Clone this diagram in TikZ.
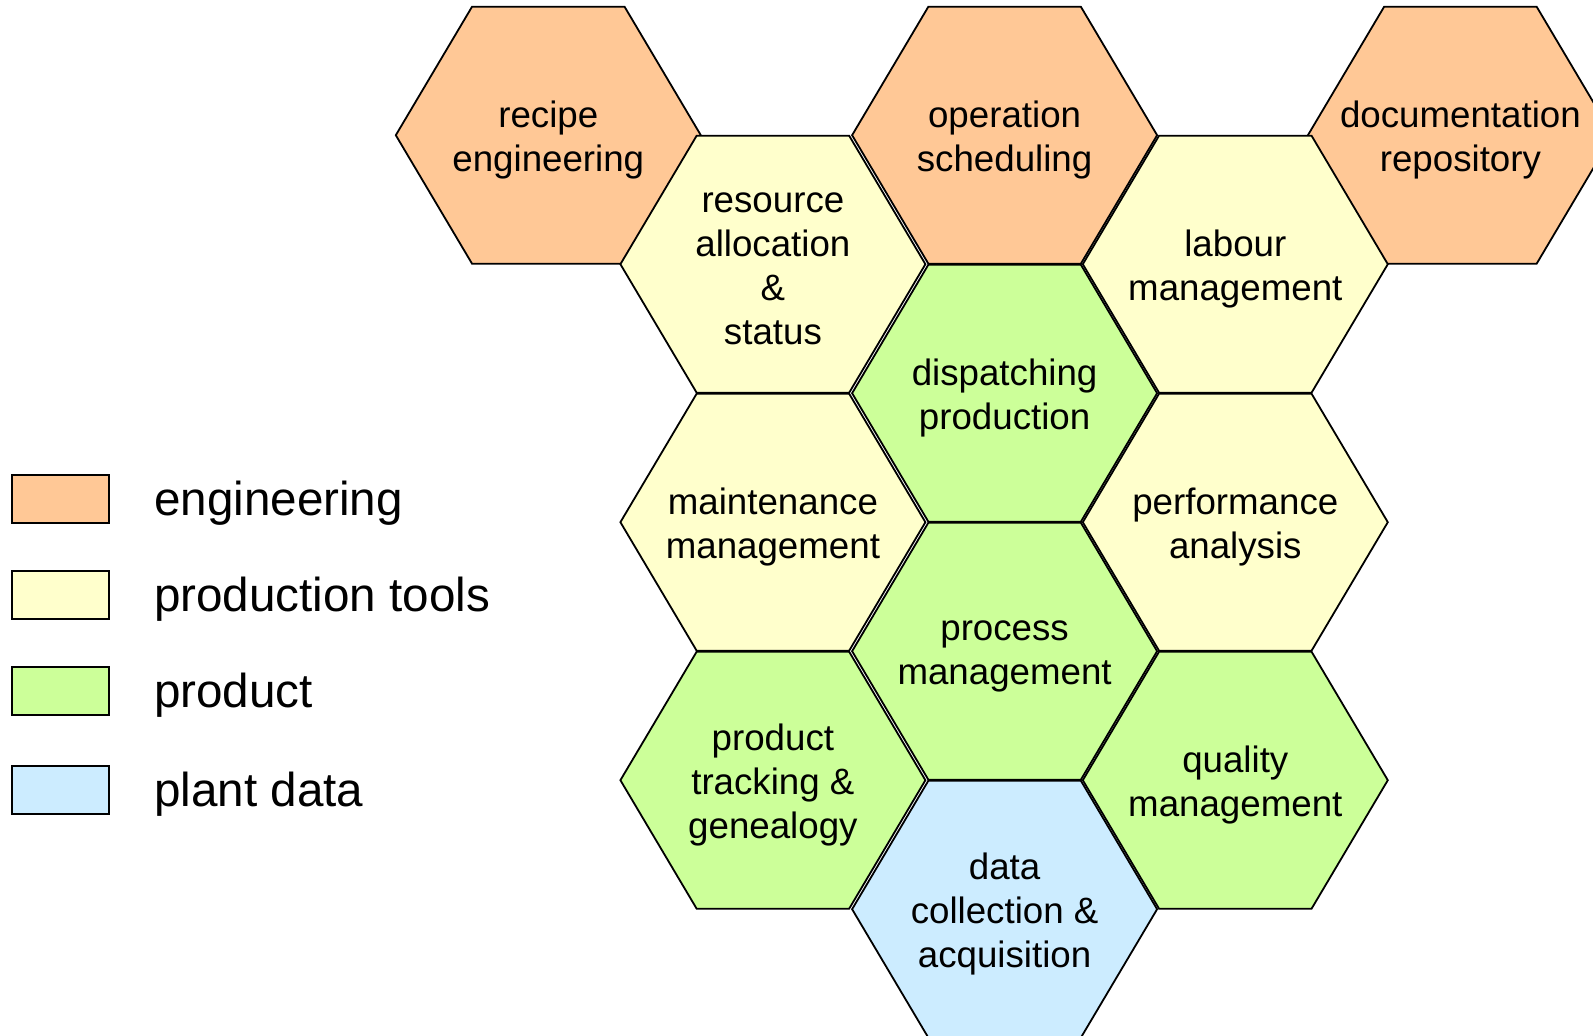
\documentclass[tikz,border=0pt]{standalone}
\usepackage{fontspec}
\setmainfont{Liberation Sans}
\definecolor{engc}{RGB}{255,200,150}
\definecolor{toolc}{RGB}{255,255,204}
\definecolor{prodc}{RGB}{204,255,153}
\definecolor{plantc}{RGB}{204,236,255}
\tikzset{
  hexline/.style={draw=black, line width=1.8pt, line join=miter},
  hextext/.style={align=center, inner sep=0pt, font=\fontsize{36.7}{44}\selectfont},
  legbox/.style={draw=black, line width=2pt, minimum width=97pt, minimum height=48pt, inner sep=0pt},
  legtext/.style={anchor=base west, inner sep=0pt, font=\fontsize{47.6}{56}\selectfont}
}
\newcommand{\hexcell}[5]{%
  \path[hexline, fill=#4] ({#2-152.5},#3) -- ++(76.25,128.5) -- ++(152.5,0) -- ++(76.25,-128.5)
    -- ++(-76.25,-128.5) -- ++(-152.5,0) -- cycle;
  \node[hextext] (#1) at (#2,{#3+5}) {#5};
}
\begin{document}
\begin{tikzpicture}[x=1pt,y=-1pt]
\useasboundingbox (0,0) rectangle (1593,1036);
\clip (0,0) rectangle (1593,1036);
% columns: 548.3, 772.9, 1004.6, 1235.3, 1460.4
% rows: 135.2, 264.2, 393.2, 522.2, 651.2, 780.2, 909.2
\hexcell{recipe}{548.3}{135.2}{engc}{recipe\\engineering}
\hexcell{operation}{1004.6}{135.2}{engc}{operation\\scheduling}
\hexcell{documentation}{1460.4}{135.2}{engc}{documentation\\repository}
\hexcell{resource}{772.9}{264.2}{toolc}{resource\\allocation\\\&\\status}
\hexcell{labour}{1235.3}{264.2}{toolc}{labour\\management}
\hexcell{dispatching}{1004.6}{393.2}{prodc}{dispatching\\production}
\hexcell{maintenance}{772.9}{522.2}{toolc}{maintenance\\management}
\hexcell{performance}{1235.3}{522.2}{toolc}{performance\\analysis}
\hexcell{process}{1004.6}{651.2}{prodc}{process\\management}
\hexcell{tracking}{772.9}{780.2}{prodc}{product\\tracking \&\\genealogy}
\hexcell{quality}{1235.3}{780.2}{prodc}{quality\\management}
\hexcell{datacoll}{1004.6}{909.2}{plantc}{data\\collection \&\\acquisition}
% legend
\node[legbox, fill=engc] (lgeng) at (60.4,499) {};
\node[legbox, fill=toolc] (lgtool) at (60.4,595) {};
\node[legbox, fill=prodc] (lgprod) at (60.4,691) {};
\node[legbox, fill=plantc] (lgplant) at (60.4,790) {};
\node[legtext] (lteng) at (154,515) {engineering};
\node[legtext] (lttool) at (154,611) {production tools};
\node[legtext] (ltprod) at (154,707) {product};
\node[legtext] (ltplant) at (154,806) {plant data};
\end{tikzpicture}
\end{document}
